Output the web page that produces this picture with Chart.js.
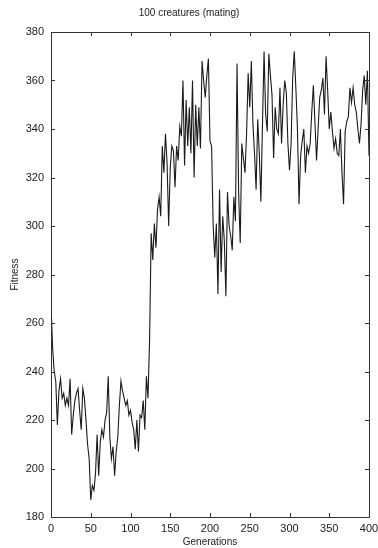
<!DOCTYPE html>
<html>
<head>
<meta charset="utf-8">
<script src="https://cdn.jsdelivr.net/npm/chart.js@4/dist/chart.umd.min.js"></script>
<style>
  html, body { margin: 0; padding: 0; background: #fff; }
  canvas { display: block; }
</style>
</head>
<body>
<canvas id="grafico" width="378" height="548"></canvas>
<script>
// fitness, one value every 2 generations (0..400)
const fitness = [
    268, 250, 240, 236, 218, 232, 237, 229, 231, 226,
    229, 226, 237, 214, 222, 228, 231, 233, 224, 216,
    233, 229, 220, 210, 204, 187, 193, 191, 198, 214,
    197, 211, 216, 213, 220, 223, 238, 213, 204, 209,
    197, 207, 213, 226, 236, 232, 229, 226, 228, 222,
    224, 219, 216, 208, 220, 207, 222, 221, 228, 216,
    238, 229, 253, 297, 286, 301, 291, 307, 312, 304,
    333, 322, 338, 326, 300, 324, 333, 331, 316, 333,
    327, 341, 337, 360, 325, 352, 333, 349, 330, 360,
    320, 350, 333, 349, 332, 368, 360, 353, 362, 369,
    335, 333, 300, 287, 301, 272, 315, 281, 304, 294,
    271, 314, 300, 296, 290, 312, 302, 367, 314, 293,
    334, 328, 322, 338, 363, 349, 368, 342, 330, 315,
    344, 330, 310, 342, 372, 346, 339, 371, 362, 354,
    328, 349, 340, 338, 357, 334, 350, 360, 355, 334,
    323, 334, 361, 372, 357, 340, 309, 329, 335, 340,
    322, 333, 330, 334, 347, 358, 343, 327, 340, 353,
    356, 361, 346, 370, 356, 340, 347, 339, 332, 336,
    330, 329, 340, 322, 309, 339, 343, 345, 357, 351,
    357, 350, 347, 340, 334, 342, 356, 362, 350, 364,
    329
];
const generations = fitness.map((_, i) => i * 2);

const xTicks = [0, 50, 100, 150, 200, 250, 300, 350, 400];
const yTicks = [180, 200, 220, 240, 260, 280, 300, 320, 340, 360, 380];

const titulo = "100 creatures (mating)";
const tituloX = "Generations";
const tituloY = "Fitness";

const fonte = "'Liberation Sans', Arial, Helvetica, sans-serif";
const corTexto = "#222";

// gnuplot style: box border with inward ticks on all four sides
const tiquesInternos = {
    id: "tiquesInternos",
    afterDatasetsDraw(chart) {
        const { ctx, chartArea: a, scales: { x, y } } = chart;
        const len = 4;
        ctx.save();
        ctx.strokeStyle = "#333";
        ctx.lineWidth = 1;
        ctx.beginPath();
        x.ticks.forEach(t => {
            const px = Math.round(x.getPixelForValue(t.value)) + 0.5;
            ctx.moveTo(px, a.bottom);
            ctx.lineTo(px, a.bottom - len);
            ctx.moveTo(px, a.top);
            ctx.lineTo(px, a.top + len);
        });
        y.ticks.forEach(t => {
            const py = Math.round(y.getPixelForValue(t.value)) + 0.5;
            ctx.moveTo(a.left, py);
            ctx.lineTo(a.left + len, py);
            ctx.moveTo(a.right, py);
            ctx.lineTo(a.right - len, py);
        });
        ctx.rect(Math.round(a.left) + 0.5, Math.round(a.top) + 0.5,
                 Math.round(a.width), Math.round(a.height));
        ctx.stroke();
        ctx.restore();
    }
};

new Chart(
    document.getElementById("grafico"),
    {
        type: "line",
        data: {
            datasets: [{
                data: generations.map((g, i) => ({ x: g, y: fitness[i] })),
                borderColor: "#1a1a1a",
                borderWidth: 1.1,
                pointRadius: 0,
                tension: 0
            }]
        },
        options: {
            responsive: false,
            animation: false,
            layout: {
                padding: { left: 9, right: 9, top: 0, bottom: 0 }
            },
            plugins: {
                legend: { display: false },
                tooltip: { enabled: false },
                title: {
                    display: true,
                    text: titulo,
                    color: corTexto,
                    font: { family: fonte, size: 10, weight: "normal" },
                    padding: { top: 7, bottom: 13 }
                }
            },
            scales: {
                x: {
                    type: "linear",
                    min: 0,
                    max: 400,
                    afterBuildTicks: s => { s.ticks = xTicks.map(v => ({ value: v })); },
                    afterFit: s => {
                        s.height = 31;
                        s.paddingLeft = 0;
                        s.paddingRight = 0;
                    },
                    grid: { display: false, drawTicks: false },
                    border: { display: false },
                    ticks: {
                        color: corTexto,
                        padding: 5,
                        maxRotation: 0,
                        font: { family: fonte, size: 11 }
                    },
                    title: {
                        display: true,
                        text: tituloX,
                        color: corTexto,
                        font: { family: fonte, size: 10 },
                        padding: 0
                    }
                },
                y: {
                    min: 180,
                    max: 380,
                    afterBuildTicks: s => { s.ticks = yTicks.map(v => ({ value: v })); },
                    afterFit: s => {
                        s.width = 42;
                        s.paddingTop = 0;
                        s.paddingBottom = 0;
                    },
                    grid: { display: false, drawTicks: false },
                    border: { display: false },
                    ticks: {
                        color: corTexto,
                        padding: 7,
                        font: { family: fonte, size: 11 }
                    },
                    title: {
                        display: true,
                        text: tituloY,
                        color: corTexto,
                        font: { family: fonte, size: 10 },
                        padding: 0
                    }
                }
            }
        },
        plugins: [tiquesInternos]
    }
);
</script>
</body>
</html>
